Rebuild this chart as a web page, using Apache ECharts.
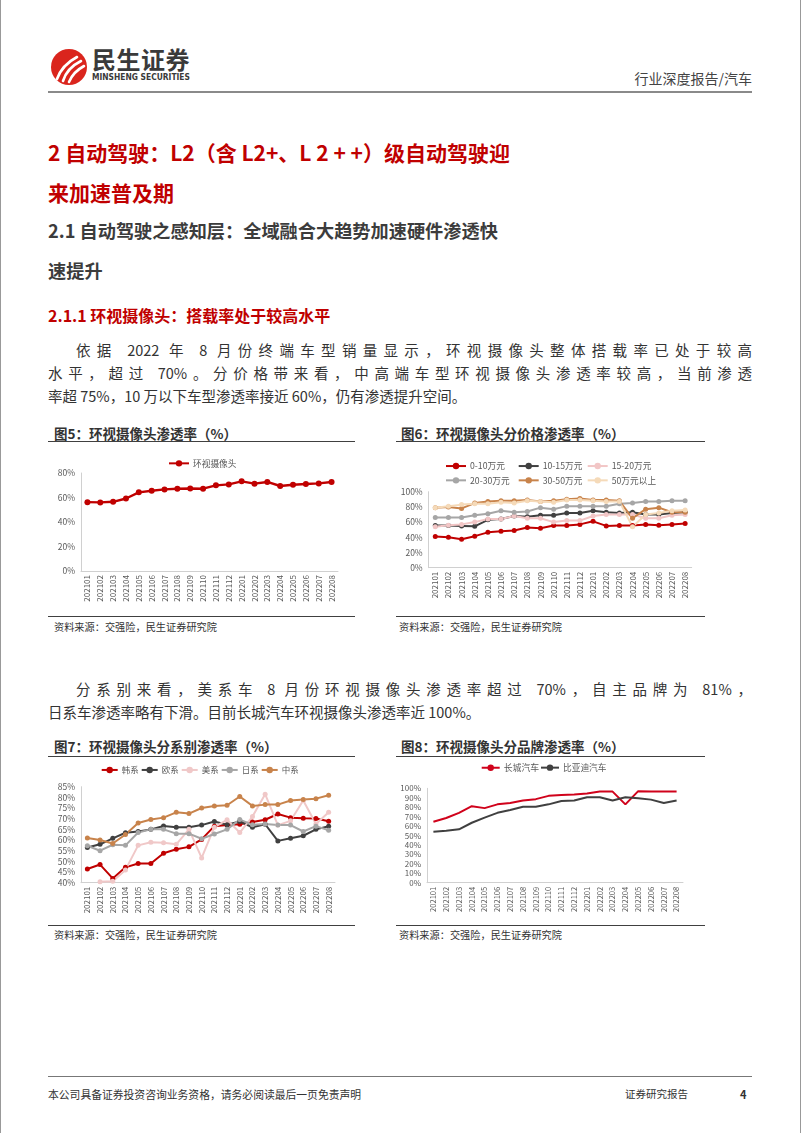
<!DOCTYPE html>
<html lang="zh-CN"><head><meta charset="utf-8">
<script src="https://cdn.jsdelivr.net/npm/echarts@6/dist/echarts.min.js"></script>
<style>
html,body{margin:0;padding:0;background:#fff}
body{width:802px;height:1133px;position:relative;overflow:hidden;font-family:"Noto Sans CJK SC","Noto Sans",sans-serif;color:#333}
.abs{position:absolute}
.nw{white-space:nowrap}
.h1{color:#C00000;font-weight:700;font-size:21px;height:30px;line-height:30px}
.h2{color:#3c3c3c;font-weight:700;font-size:18.2px;height:30px;line-height:30px}
.h3{color:#C00000;font-weight:700;font-size:16px;height:24px;line-height:24px}
.p{font-size:14.5px;height:22px;line-height:22px;color:#333}
.j{text-align:justify;text-align-last:justify}
.ft{font-size:13.5px;font-weight:700;color:#333;height:20px;line-height:20px}
.src{font-size:10.2px;color:#333;height:16px;line-height:16px}
.hr{height:1px;background:#404040}
.chart{position:absolute}
</style></head>
<body>
<div class="abs" style="left:0;top:0;width:1px;height:1133px;background:#999"></div>
<div class="abs" style="left:800px;top:0;width:1px;height:1133px;background:#999"></div>

<svg class="abs" style="left:50px;top:48px" width="38" height="38" viewBox="0 0 38 38">
  <circle cx="19" cy="19" r="18" fill="#DA251D"/>
  <path d="M7 31 Q12 17 27 9" stroke="#fff" stroke-width="2.6" fill="none" stroke-linecap="round"/>
  <path d="M13 33 Q17 20 31 13" stroke="#fff" stroke-width="2.6" fill="none" stroke-linecap="round"/>
  <path d="M19 34 Q23 24 34 18" stroke="#fff" stroke-width="2.6" fill="none" stroke-linecap="round"/>
</svg>
<div class="abs nw" style="left:92px;top:45px;font-size:24px;font-weight:700;color:#3a3a3a;line-height:28px;letter-spacing:0.5px">民生证券</div>
<div class="abs nw" style="left:92px;top:72px;font-size:9px;font-weight:700;color:#3a3a3a;line-height:10px;font-family:'DejaVu Sans Condensed','Liberation Sans Narrow',sans-serif;transform:scaleX(0.93);transform-origin:left">MINSHENG SECURITIES</div>
<div class="abs nw" style="right:50px;top:68px;font-size:14px;color:#444;line-height:20px">行业深度报告/汽车</div>
<div class="abs" style="left:48px;top:91px;width:704px;height:2px;background:#8a8a8a"></div>

<div class="abs nw h1" style="left:48px;top:137px">2 自动驾驶：L2（含 L2+、L 2 + +）级自动驾驶迎</div>
<div class="abs nw h1" style="left:48px;top:177px">来加速普及期</div>
<div class="abs nw h2" style="left:48px;top:215px">2.1 自动驾驶之感知层：全域融合大趋势加速硬件渗透快</div>
<div class="abs nw h2" style="left:48px;top:255px">速提升</div>
<div class="abs nw h3" style="left:48px;top:303px">2.1.1 环视摄像头：搭载率处于较高水平</div>

<div class="abs p j" style="left:76px;top:339px;width:676px">依据 2022 年 8 月份终端车型销量显示，环视摄像头整体搭载率已处于较高</div>
<div class="abs p j" style="left:48px;top:362px;width:704px">水平，超过 70%。分价格带来看，中高端车型环视摄像头渗透率较高，当前渗透</div>
<div class="abs p nw" style="left:48px;top:385px">率超 75%，10 万以下车型渗透率接近 60%，仍有渗透提升空间。</div>

<div class="abs nw ft" style="left:54px;top:423px">图5：环视摄像头渗透率（%）</div>
<div class="abs nw ft" style="left:401px;top:423px">图6：环视摄像头分价格渗透率（%）</div>
<div class="abs hr" style="left:48px;top:441px;width:307px"></div>
<div class="abs hr" style="left:396px;top:441px;width:309px"></div>
<div class="abs hr" style="left:48px;top:616px;width:307px"></div>
<div class="abs hr" style="left:396px;top:616px;width:309px"></div>
<div class="abs nw src" style="left:54px;top:619px">资料来源：交强险，民生证券研究院</div>
<div class="abs nw src" style="left:399px;top:619px">资料来源：交强险，民生证券研究院</div>

<div class="abs p j" style="left:76px;top:678px;width:676px">分系别来看，美系车 8 月份环视摄像头渗透率超过 70%，自主品牌为 81%，</div>
<div class="abs p nw" style="left:48px;top:701px">日系车渗透率略有下滑。目前长城汽车环视摄像头渗透率近 100%。</div>

<div class="abs nw ft" style="left:54px;top:736px">图7：环视摄像头分系别渗透率（%）</div>
<div class="abs nw ft" style="left:401px;top:736px">图8：环视摄像头分品牌渗透率（%）</div>
<div class="abs hr" style="left:48px;top:756px;width:307px"></div>
<div class="abs hr" style="left:396px;top:756px;width:309px"></div>
<div class="abs hr" style="left:48px;top:925px;width:307px"></div>
<div class="abs hr" style="left:396px;top:925px;width:309px"></div>
<div class="abs nw src" style="left:54px;top:927px">资料来源：交强险，民生证券研究院</div>
<div class="abs nw src" style="left:399px;top:927px">资料来源：交强险，民生证券研究院</div>

<div class="abs" style="left:48px;top:1076px;width:704px;height:1px;background:#777"></div>
<div class="abs nw" style="left:48px;top:1086px;font-size:10.8px;color:#333;line-height:16px">本公司具备证券投资咨询业务资格，请务必阅读最后一页免责声明</div>
<div class="abs nw" style="left:625px;top:1086px;font-size:10.5px;color:#333;line-height:16px">证券研究报告</div>
<div class="abs nw" style="left:740px;top:1086px;font-size:11px;font-weight:700;color:#333;line-height:16px">4</div>

<div id="c5" class="chart" style="left:40px;top:444px;width:320px;height:170px"></div>
<div id="c6" class="chart" style="left:390px;top:444px;width:320px;height:170px"></div>
<div id="c7" class="chart" style="left:40px;top:758px;width:320px;height:165px"></div>
<div id="c8" class="chart" style="left:390px;top:758px;width:320px;height:165px"></div>

<script>
// ---- data ----
const months = ['202101','202102','202103','202104','202105','202106','202107','202108','202109','202110','202111','202112','202201','202202','202203','202204','202205','202206','202207','202208'];

// Fig5
const totalRate = [56.2,56.0,56.5,59.2,64.2,65.5,66.6,67.2,67.4,67.2,69.9,70.7,73.2,71.3,72.7,69.4,70.4,71.0,71.5,72.7];

// Fig6 price bands
const band0_10  = [41,40,37.5,41.5,46.5,48,49,53,52,55.5,55.5,57,61,55,55.5,55.5,57,56,57,58];
const band10_15 = [55.5,55.5,55,54.5,63,64,68,67,69,69,72,72,75,73,72,73,70,70,72,73];
const band15_20 = [54,56,57,60,64,64,68,65,65,60,62,62,68,70,70,70,65,65,69,70];
const band20_30 = [66,66,66,69,71,75,73,74,79,77,81,81,81,81,84,85,87,87,88,88];
const band30_50 = [79,80,78,85,87,88,88,89,87,88,90,91,89,89,88,65,77,79,73,73];
const band50up  = [79,81,83,84,84,86,85,88,87,86,89,89,88,87,87,54,70,72,75,76];

// Fig7 by origin
const korean   = [46.4,48.5,42,47.2,49,49,53.8,55.7,56.8,60.3,66.5,67,67.4,68.5,69.5,72.2,70.5,70.2,70.1,68.8];
const european = [56.5,58,60.8,63.4,64,65,66.6,66,66,67,68.7,67.2,68.7,66,67.4,59.6,60.8,62,65,66.5];
const american = [null,40.5,40.7,46,57.5,59,58.7,58,65,51.6,66,69.5,63.5,71,81.5,67,69,78.5,67.5,73];
const japanese = [57.3,55,57.8,57.5,63.5,65,65,63,63,60.6,62.8,65,69.6,67.2,67.5,67,67,64,66.5,64.6];
const chinese  = [61,60,58.4,62.6,68,69.6,70.5,73,72.4,75,76,76.3,80.4,76,76.6,76.6,78.5,79,79.4,81];

// Fig8 by brand
const greatWall = [64.5,68.5,74,81,79,83,84.5,87,88.5,92,93,93.5,94.5,96.5,96.5,83,97,96.5,96.5,96.5];
const byd       = [54,55,56.5,63.5,69,74,77,80.5,80.5,83,86.5,87,90.5,90.5,87,90.5,89.5,88,84.5,87];

// ---- charts ----
const FF = '"Noto Sans CJK SC","Noto Sans",sans-serif';
const LBL = '#595959';

function base(grid, yMin, yMax, yInt, xFont, yFont) {
  return {
    animation: false,
    textStyle: {fontFamily: FF},
    grid: grid,
    xAxis: {
      type: 'category', data: months, boundaryGap: true,
      axisTick: {show: false},
      axisLine: {show: true, lineStyle: {color: '#d0d0d0', width: 1}},
      axisLabel: {rotate: 90, interval: 0, fontSize: xFont, color: LBL, margin: 4, fontFamily: FF}
    },
    yAxis: {
      type: 'value', min: yMin, max: yMax, interval: yInt,
      axisLine: {show: true, lineStyle: {color: '#d0d0d0', width: 1}},
      axisTick: {show: false},
      splitLine: {show: false},
      axisLabel: {formatter: '{value}%', fontSize: yFont, color: LBL, margin: 6, fontFamily: FF}
    }
  };
}
function lineSeries(name, data, color, width, symSize) {
  return {
    name: name, type: 'line', data: data,
    symbol: symSize ? 'circle' : 'none', symbolSize: symSize || 0,
    showSymbol: !!symSize,
    lineStyle: {color: color, width: width},
    itemStyle: {color: color},
    emphasis: {disabled: true},
    connectNulls: false
  };
}
function leg(name, left, top, w, fs) {
  return {data: [name], left: left, top: top, itemWidth: w, itemHeight: 8, itemGap: 0,
    textStyle: {fontSize: fs, color: LBL, fontFamily: FF, padding: [0,0,0,-1]}, padding: 0};
}

// Fig5
const c5 = echarts.init(document.getElementById('c5'), null, {renderer: 'canvas'});
const o5 = base({left: 41, top: 29, width: 257, height: 98}, 0, 80, 20, 8, 8.5);
o5.legend = [leg('环视摄像头', 128, 15, 20, 8.7)];
o5.series = [lineSeries('环视摄像头', totalRate, '#C00000', 2.4, 6)];
c5.setOption(o5);

// Fig6
const c6 = echarts.init(document.getElementById('c6'));
const o6 = base({left: 38.7, top: 47.7, width: 263, height: 76}, 0, 100, 20, 8, 8.5);
const s6 = [
  ['0-10万元', band0_10, '#C00000'],
  ['10-15万元', band10_15, '#404040'],
  ['15-20万元', band15_20, '#F2C6C6'],
  ['20-30万元', band20_30, '#A6A6A6'],
  ['30-50万元', band30_50, '#C8834B'],
  ['50万元以上', band50up, '#F5DAB9']
];
const lx6 = [55, 127.7, 196.7], ly6 = [17.7, 32];
o6.legend = s6.map((s, i) => leg(s[0], lx6[i % 3], ly6[Math.floor(i / 3)], 20, 8.7));
o6.series = s6.map(s => lineSeries(s[0], s[1], s[2], 2, 5));
c6.setOption(o6);

// Fig7
const c7 = echarts.init(document.getElementById('c7'));
const o7 = base({left: 41, top: 28.7, width: 254, height: 96}, 40, 85, 5, 8, 8.5);
const s7 = [
  ['韩系', korean, '#C00000'],
  ['欧系', european, '#404040'],
  ['美系', american, '#F0C8C8'],
  ['日系', japanese, '#A6A6A6'],
  ['中系', chinese, '#C8834B']
];
o7.legend = s7.map((s, i) => leg(s[0], 60.7 + i * 40, 7.7, 16, 8.5));
o7.series = s7.map(s => lineSeries(s[0], s[1], s[2], 2, 5));
c7.setOption(o7);

// Fig8
const c8 = echarts.init(document.getElementById('c8'));
const o8 = base({left: 37, top: 30.3, width: 256, height: 94.4}, 0, 100, 10, 7.6, 8);
o8.legend = [leg('长城汽车', 90.7, 5.3, 18, 8.9), leg('比亚迪汽车', 150, 5.3, 18, 8.7)];
o8.series = [
  lineSeries('长城汽车', greatWall, '#D0021B', 2, 0),
  lineSeries('比亚迪汽车', byd, '#404040', 2, 0)
];
c8.setOption(o8);
</script>
</body></html>
